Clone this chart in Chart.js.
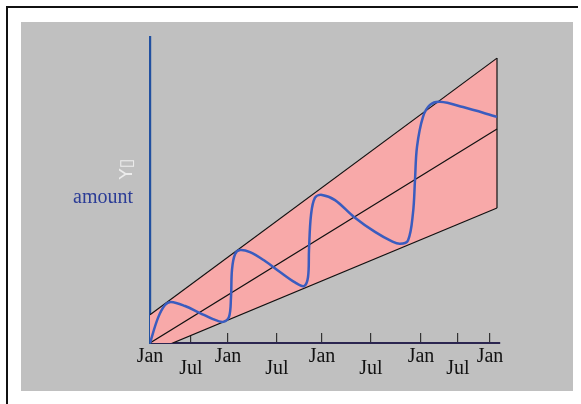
<!DOCTYPE html>
<html>
<head>
<meta charset="utf-8">
<script src="https://cdn.jsdelivr.net/npm/chart.js@4"></script>
<style>
    html, body {margin: 0; padding: 0; background: #fff; overflow: hidden;}
    .rule {position: absolute; background: #111;}
    #ruleTop {left: 6px; top: 6px; width: 572px; height: 2px;}
    #ruleLeft {left: 6px; top: 6px; width: 2px; height: 398px;}
    #panel {position: absolute; left: 21px; top: 22px; width: 552px; height: 369px; background: #c0c0c0;}
    #yTitle {position: absolute; left: 125px; top: 169px; transform: translate(-50%, -50%) rotate(-90deg); font: 18px "DejaVu Sans", sans-serif; color: #ececec; white-space: nowrap;}
    #amount {position: absolute; left: 73px; top: 186px; font: 20px "Liberation Serif", serif; line-height: 20px; color: #2b3c96;}
</style>
</head>
<body>
<div class="rule" id="ruleTop"></div>
<div class="rule" id="ruleLeft"></div>
<div id="panel"><canvas id="chart"></canvas></div>
<div id="yTitle">Y▯</div>
<div id="amount">amount</div>
<script>
    // x ticks (positions along the axis) and their labels
    const xTickValues = [0, 41, 78, 127, 172, 221, 271, 308, 340];
    const xTickLabels = ["Jan", "Jul", "Jan", "Jul", "Jan", "Jul", "Jan", "Jul", "Jan"];

    // band edges and centre line
    const upperLine = [{x: 0, y: 9.2}, {x: 347, y: 93.1}];
    const lowerLine = [{x: 0, y: -3.1}, {x: 347, y: 44.1}];
    const middleLine = [{x: 0, y: 0}, {x: 347, y: 69.9}];
    const rightEdge = [{x: 347, y: 44.1}, {x: 347, y: 93.1}];

    // the wavy blue series
    const wave = [
        {x: 0, y: 0}, {x: 8, y: 8.2}, {x: 15, y: 12.4}, {x: 21, y: 13.4},
        {x: 35, y: 12.1}, {x: 50, y: 9.8}, {x: 63, y: 7.8}, {x: 73, y: 6.9},
        {x: 79, y: 8.5}, {x: 81, y: 15}, {x: 82, y: 24}, {x: 85, y: 29},
        {x: 90, y: 30.4}, {x: 100, y: 29.7}, {x: 115, y: 26.8}, {x: 130, y: 23.2},
        {x: 145, y: 19.8}, {x: 154, y: 18.6}, {x: 158, y: 21.5}, {x: 159, y: 30.4},
        {x: 161, y: 41.8}, {x: 165, y: 47.5}, {x: 172, y: 48.4}, {x: 185, y: 46.7},
        {x: 204, y: 41.2}, {x: 225, y: 36.3}, {x: 242, y: 33.2}, {x: 250, y: 32.4},
        {x: 258, y: 33.5}, {x: 263, y: 42.5}, {x: 265, y: 53.3}, {x: 267, y: 64.1},
        {x: 273, y: 73.9}, {x: 280, y: 77.8}, {x: 290, y: 78.8}, {x: 313, y: 77.1},
        {x: 347, y: 73.9}
    ];

    const black = "#111";

    new Chart(document.getElementById("chart"), {
        type: "line",
        data: {
            datasets: [
                {data: wave, borderColor: "#3a5cbf", borderWidth: 2.5, tension: 0.35, pointRadius: 0, fill: false},
                {data: upperLine, borderColor: black, borderWidth: 1.2, pointRadius: 0, fill: "+1", backgroundColor: "#f8a9a9"},
                {data: lowerLine, borderColor: black, borderWidth: 1.2, pointRadius: 0, fill: false},
                {data: middleLine, borderColor: black, borderWidth: 1.2, pointRadius: 0, fill: false},
                {data: rightEdge, borderColor: black, borderWidth: 1.2, pointRadius: 0, fill: false}
            ]
        },
        options: {
            responsive: true,
            maintainAspectRatio: false,
            animation: false,
            layout: {padding: {left: 129, top: 15, right: 73, bottom: 0}},
            plugins: {
                legend: {display: false},
                tooltip: {enabled: false},
                filler: {drawTime: "beforeDatasetsDraw"}
            },
            scales: {
                x: {
                    type: "linear",
                    min: 0,
                    max: 350,
                    z: 1,
                    afterFit: s => { s.height = 48; },
                    afterBuildTicks: s => { s.ticks = xTickValues.map(v => ({value: v})); },
                    border: {display: true, color: "#2b2550", width: 2},
                    grid: {display: true, drawOnChartArea: false, drawTicks: true, tickLength: -10, color: "#333", lineWidth: 1.2},
                    ticks: {
                        autoSkip: false,
                        maxRotation: 0,
                        padding: 17,
                        color: "#111",
                        font: {family: "Liberation Serif", size: 20, lineHeight: 0.625},
                        callback: (v, i) => xTickLabels[i] === "Jul" ? ["", "Jul"] : xTickLabels[i]
                    }
                },
                y: {
                    type: "linear",
                    min: 0,
                    max: 100,
                    z: 1,
                    afterFit: s => { s.width = 0; },
                    border: {display: true, color: "#2150a0", width: 2.2},
                    grid: {display: false},
                    ticks: {display: false}
                }
            }
        }
    });
</script>
</body>
</html>
